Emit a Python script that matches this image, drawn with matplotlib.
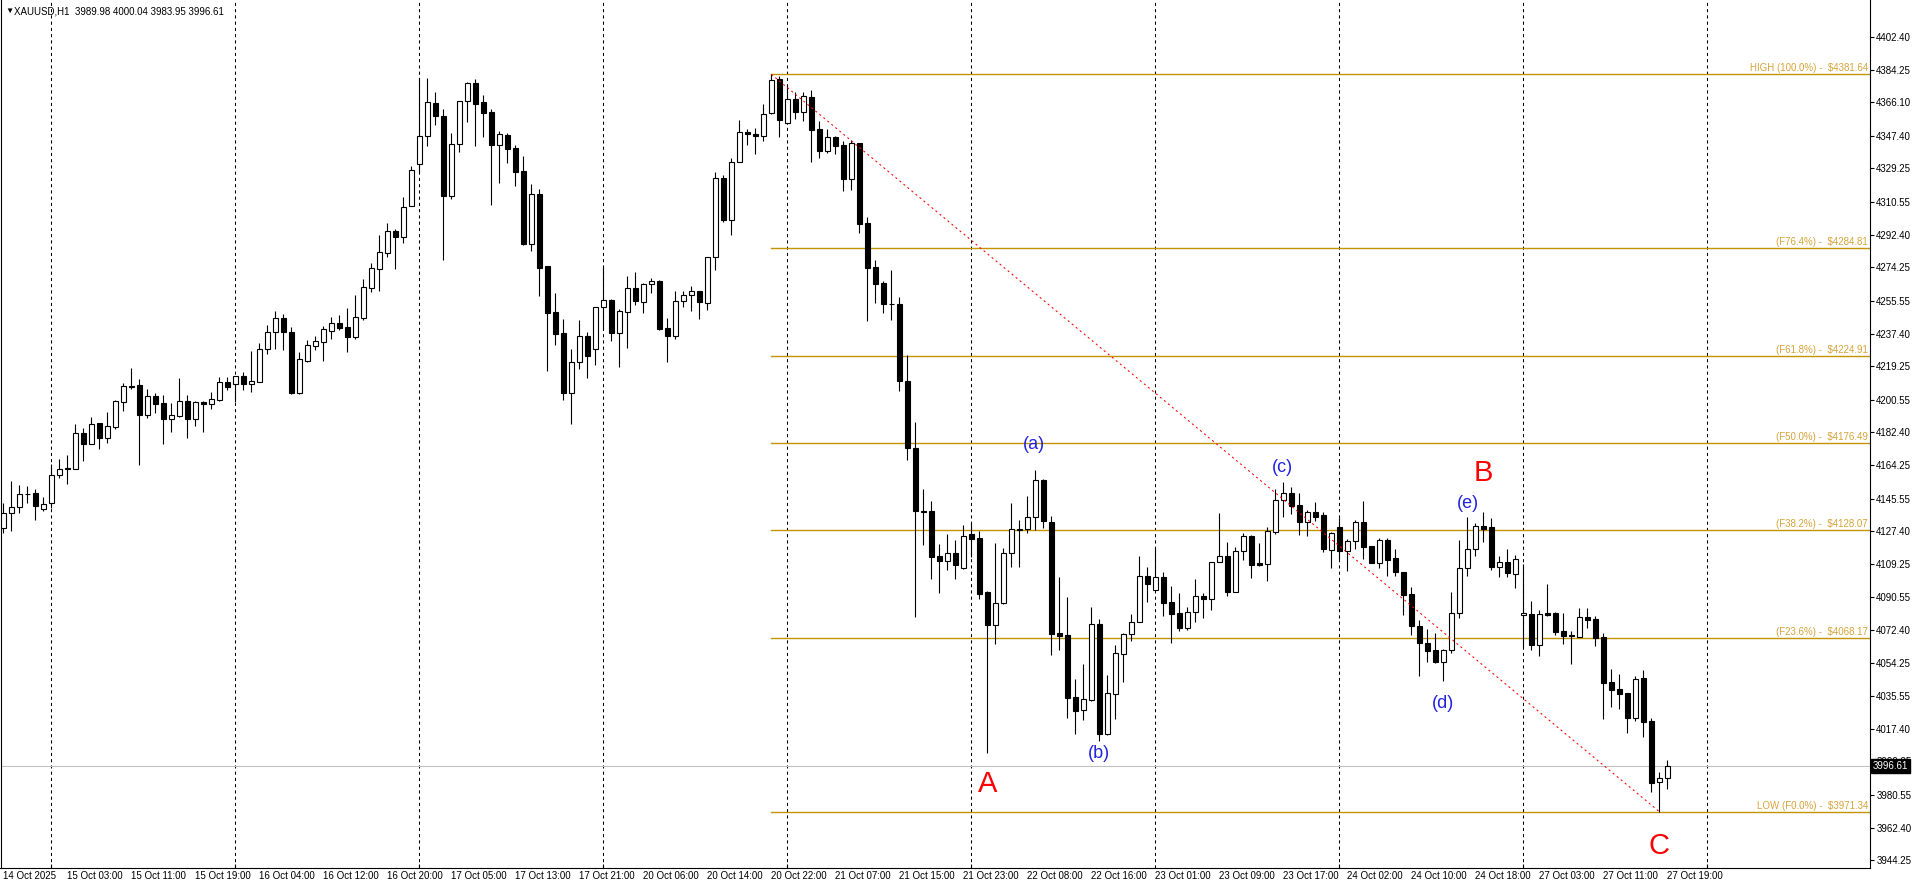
import numpy as np
import matplotlib
matplotlib.use("Agg")
import matplotlib.pyplot as plt
from matplotlib.transforms import blended_transform_factory

plt.rcParams['font.family'] = ['Liberation Sans', 'DejaVu Sans']

# XAUUSD H1, one value per bar (bar 0 = 14 Oct 19:00, bar 208 = 27 Oct 19:00)
opens = [
    4128.99, 4137.71, 4140.67, 4147.91, 4148.46, 4139.56, 4143.27, 4158.48, 4161.82, 4162.19,
    4181.85, 4176.10, 4187.42, 4179.44, 4185.56, 4199.10, 4207.82, 4208.75, 4192.24, 4202.63,
    4198.73, 4190.01, 4191.68, 4199.66, 4190.01, 4199.29, 4197.99, 4200.40, 4210.23, 4209.12,
    4213.76, 4209.49, 4210.60, 4229.00, 4238.00, 4246.00, 4238.00, 4204.50, 4222.30, 4230.63,
    4232.86, 4238.98, 4243.06, 4240.84, 4235.64, 4246.22, 4262.91, 4273.48, 4282.39, 4294.26,
    4290.92, 4308.54, 4331.91, 4347.12, 4365.49, 4358.25, 4314.11, 4342.67, 4366.60, 4376.62,
    4366.04, 4360.48, 4342.49, 4347.68, 4340.45, 4327.65, 4287.02, 4314.85, 4274.78, 4249.18,
    4237.50, 4204.48, 4221.73, 4235.83, 4228.97, 4251.97, 4255.86, 4237.87, 4249.55, 4262.54,
    4255.12, 4264.77, 4266.62, 4240.28, 4236.20, 4255.31, 4258.64, 4260.87, 4254.56, 4279.79,
    4323.75, 4300.75, 4332.65, 4349.53, 4348.42, 4347.49, 4359.92, 4379.03, 4354.36, 4367.71,
    4360.48, 4369.01, 4351.02, 4339.15, 4346.57, 4342.30, 4323.57, 4343.41, 4298.90, 4274.41,
    4265.51, 4253.82, 4253.82, 4210.97, 4173.69, 4138.60, 4138.46, 4113.42, 4110.97, 4115.09,
    4107.08, 4125.83, 4123.60, 4093.39, 4075.02, 4087.26, 4115.09, 4128.44, 4128.44, 4135.12,
    4155.71, 4132.51, 4070.74, 4069.63, 4034.95, 4027.72, 4033.62, 4075.75, 4014.70, 4036.63,
    4058.88, 4070.02, 4076.69, 4102.29, 4094.67, 4101.73, 4087.82, 4081.70, 4073.35, 4082.59,
    4091.33, 4089.49, 4110.08, 4113.42, 4093.72, 4116.20, 4124.55, 4109.52, 4109.30, 4126.78,
    4144.58, 4148.48, 4141.97, 4132.67, 4137.90, 4136.40, 4116.76, 4129.56, 4116.20, 4121.93,
    4132.51, 4118.99, 4109.52, 4122.32, 4112.47, 4104.68, 4092.44, 4074.47, 4065.34, 4061.11,
    4054.43, 4061.11, 4081.70, 4106.74, 4117.31, 4130.11, 4129.56, 4107.30, 4110.08, 4103.57,
    4080.59, 4081.48, 4064.23, 4081.70, 4081.87, 4071.85, 4069.63, 4068.68, 4079.64, 4078.53,
    4068.51, 4043.47, 4039.58, 4037.35, 4023.60, 4045.70, 4021.77, 3987.66, 3989.98,
]
highs = [
    4142.90, 4155.33, 4152.92, 4152.55, 4150.69, 4146.24, 4164.60, 4167.57, 4169.61, 4187.05,
    4184.64, 4190.76, 4187.42, 4193.72, 4200.40, 4209.68, 4218.21, 4211.90, 4206.34, 4204.30,
    4203.18, 4198.73, 4212.64, 4203.18, 4199.66, 4199.66, 4204.85, 4213.20, 4213.20, 4213.57,
    4215.98, 4227.67, 4232.00, 4242.00, 4250.00, 4248.00, 4241.00, 4227.10, 4234.00, 4236.02,
    4241.58, 4246.77, 4247.70, 4251.60, 4258.83, 4267.73, 4276.64, 4292.22, 4298.90, 4295.56,
    4313.36, 4330.61, 4379.40, 4379.58, 4371.79, 4362.15, 4348.98, 4366.60, 4377.36, 4379.03,
    4370.12, 4362.15, 4349.91, 4348.98, 4342.30, 4335.99, 4320.41, 4317.63, 4274.78, 4259.76,
    4245.29, 4228.59, 4244.73, 4238.05, 4252.34, 4274.78, 4256.42, 4250.85, 4269.22, 4271.63,
    4265.32, 4268.10, 4267.18, 4245.85, 4261.06, 4261.24, 4263.65, 4260.87, 4279.79, 4327.09,
    4325.42, 4334.88, 4356.03, 4351.20, 4351.76, 4365.12, 4381.64, 4380.70, 4375.50, 4371.61,
    4371.61, 4372.91, 4355.66, 4351.20, 4347.31, 4344.53, 4345.08, 4343.41, 4302.23, 4278.31,
    4266.62, 4272.74, 4257.72, 4225.44, 4187.99, 4150.87, 4144.19, 4120.26, 4125.83, 4122.49,
    4130.67, 4132.51, 4127.50, 4094.11, 4120.82, 4117.87, 4143.25, 4133.62, 4146.98, 4161.44,
    4156.44, 4135.85, 4101.90, 4090.94, 4045.14, 4053.49, 4085.21, 4078.53, 4047.37, 4064.06,
    4070.74, 4081.31, 4113.42, 4107.47, 4117.87, 4104.52, 4096.89, 4092.83, 4085.21, 4100.79,
    4093.16, 4110.08, 4137.68, 4121.38, 4118.43, 4126.22, 4125.27, 4120.65, 4129.89, 4151.04,
    4154.77, 4152.15, 4148.65, 4139.19, 4143.64, 4138.07, 4126.94, 4134.73, 4123.05, 4133.79,
    4144.19, 4118.99, 4123.44, 4123.44, 4117.65, 4104.68, 4096.34, 4077.81, 4073.13, 4070.57,
    4062.00, 4093.39, 4122.66, 4135.29, 4131.78, 4138.24, 4134.73, 4113.42, 4117.48, 4113.98,
    4109.14, 4088.55, 4083.70, 4098.01, 4082.42, 4081.87, 4071.85, 4084.65, 4084.65, 4080.36,
    4070.74, 4050.54, 4047.92, 4037.35, 4046.81, 4050.15, 4023.44, 3993.39, 4000.04,
]
lows = [
    4126.21, 4127.69, 4137.34, 4142.90, 4133.63, 4138.82, 4140.12, 4156.81, 4153.84, 4161.82,
    4166.64, 4176.10, 4173.32, 4176.66, 4184.08, 4194.47, 4206.71, 4164.42, 4190.57, 4193.35,
    4176.10, 4182.78, 4191.13, 4179.44, 4186.12, 4182.41, 4195.21, 4199.85, 4205.97, 4199.47,
    4205.97, 4204.85, 4210.60, 4226.00, 4229.00, 4228.00, 4203.60, 4203.60, 4221.50, 4228.41,
    4222.29, 4234.53, 4239.35, 4227.30, 4234.53, 4244.92, 4260.50, 4261.24, 4279.98, 4273.48,
    4287.95, 4308.54, 4326.72, 4341.74, 4353.43, 4278.31, 4312.44, 4338.40, 4355.28, 4341.74,
    4346.94, 4308.91, 4321.34, 4332.47, 4319.48, 4286.65, 4283.31, 4258.46, 4216.54, 4231.01,
    4200.40, 4187.00, 4217.65, 4212.64, 4220.06, 4239.72, 4233.42, 4218.95, 4229.52, 4253.26,
    4249.00, 4260.13, 4239.35, 4221.73, 4234.53, 4252.34, 4250.11, 4245.66, 4250.48, 4272.74,
    4299.64, 4292.40, 4332.65, 4342.49, 4337.48, 4344.71, 4359.37, 4346.75, 4354.36, 4356.95,
    4355.84, 4333.03, 4335.07, 4338.03, 4337.48, 4316.89, 4317.44, 4293.33, 4244.55, 4254.56,
    4248.81, 4245.10, 4205.57, 4167.01, 4079.81, 4119.88, 4100.79, 4093.16, 4105.80, 4100.62,
    4106.19, 4113.20, 4089.83, 4003.79, 4064.45, 4087.04, 4107.30, 4107.63, 4126.22, 4128.06,
    4129.00, 4058.66, 4061.28, 4023.60, 4014.70, 4022.32, 4033.06, 4010.81, 4014.14, 4023.05,
    4043.64, 4066.29, 4076.69, 4088.16, 4094.67, 4080.36, 4065.17, 4071.68, 4072.24, 4076.86,
    4079.25, 4083.70, 4110.08, 4091.49, 4093.72, 4111.19, 4101.51, 4108.20, 4099.84, 4125.66,
    4135.46, 4136.96, 4125.44, 4124.72, 4133.23, 4115.65, 4107.08, 4111.75, 4105.41, 4117.48,
    4112.09, 4109.52, 4106.74, 4102.62, 4102.62, 4080.92, 4069.46, 4046.98, 4054.43, 4053.88,
    4043.86, 4059.44, 4078.92, 4102.29, 4113.42, 4121.55, 4105.80, 4101.73, 4102.07, 4095.95,
    4063.11, 4061.45, 4058.11, 4080.36, 4069.63, 4064.62, 4053.65, 4068.68, 4073.69, 4063.67,
    4022.88, 4029.56, 4028.45, 4015.26, 4021.77, 4013.03, 3982.26, 3971.34, 3983.95,
]
closes = [
    4137.71, 4140.67, 4147.91, 4148.28, 4141.60, 4142.34, 4158.48, 4161.82, 4162.38, 4181.85,
    4176.10, 4186.86, 4179.44, 4185.75, 4199.85, 4208.01, 4208.19, 4192.24, 4202.44, 4198.36,
    4190.01, 4191.87, 4199.66, 4190.01, 4199.29, 4197.99, 4200.77, 4210.23, 4207.82, 4213.57,
    4209.49, 4210.97, 4229.00, 4238.00, 4246.00, 4238.00, 4204.50, 4223.00, 4230.80, 4233.23,
    4239.72, 4243.06, 4240.65, 4235.64, 4246.40, 4263.10, 4273.67, 4282.57, 4294.26, 4291.29,
    4307.61, 4328.20, 4347.12, 4366.04, 4358.62, 4314.11, 4342.67, 4366.60, 4376.62, 4365.30,
    4360.29, 4342.49, 4348.24, 4340.26, 4327.46, 4287.21, 4314.85, 4274.04, 4249.00, 4237.31,
    4204.48, 4221.36, 4235.83, 4225.07, 4251.97, 4255.86, 4237.87, 4249.74, 4262.54, 4255.68,
    4264.77, 4266.62, 4239.91, 4236.20, 4255.31, 4258.64, 4260.87, 4255.12, 4279.79, 4323.75,
    4300.75, 4332.65, 4349.35, 4348.24, 4347.49, 4359.37, 4378.29, 4356.40, 4367.71, 4360.48,
    4369.38, 4350.83, 4339.15, 4346.57, 4341.93, 4323.57, 4343.41, 4298.52, 4274.04, 4265.14,
    4254.01, 4253.64, 4211.16, 4173.85, 4138.80, 4138.30, 4113.20, 4110.97, 4115.09, 4108.75,
    4124.55, 4123.21, 4092.61, 4075.02, 4087.26, 4115.09, 4128.44, 4128.30, 4135.12, 4155.71,
    4132.90, 4070.35, 4069.24, 4034.73, 4027.50, 4034.01, 4075.58, 4014.70, 4037.18, 4059.44,
    4070.18, 4076.69, 4102.29, 4098.17, 4101.73, 4087.60, 4081.48, 4073.35, 4082.26, 4091.16,
    4089.49, 4110.08, 4113.42, 4093.72, 4116.20, 4124.55, 4108.75, 4108.58, 4127.50, 4144.58,
    4148.48, 4141.58, 4132.67, 4137.90, 4135.29, 4117.65, 4126.22, 4116.20, 4121.93, 4132.34,
    4118.76, 4109.52, 4122.32, 4111.53, 4104.52, 4092.05, 4074.47, 4065.01, 4060.55, 4054.43,
    4061.11, 4081.70, 4106.74, 4117.31, 4130.11, 4128.78, 4107.30, 4110.08, 4103.96, 4111.75,
    4081.87, 4064.23, 4081.48, 4080.92, 4071.46, 4069.24, 4068.90, 4079.64, 4078.14, 4068.12,
    4043.08, 4039.19, 4036.96, 4023.60, 4045.14, 4021.38, 3987.43, 3989.88, 3996.61,
]

time_labels = [
    '14 Oct 2025', '15 Oct 03:00', '15 Oct 11:00', '15 Oct 19:00', '16 Oct 04:00',
    '16 Oct 12:00', '16 Oct 20:00', '17 Oct 05:00', '17 Oct 13:00', '17 Oct 21:00',
    '20 Oct 06:00', '20 Oct 14:00', '20 Oct 22:00', '21 Oct 07:00', '21 Oct 15:00',
    '21 Oct 23:00', '22 Oct 08:00', '22 Oct 16:00', '23 Oct 01:00', '23 Oct 09:00',
    '23 Oct 17:00', '24 Oct 02:00', '24 Oct 10:00', '24 Oct 18:00', '27 Oct 03:00',
    '27 Oct 11:00', '27 Oct 19:00',
]
price_ticks = [
    4402.40, 4384.25, 4366.10, 4347.40, 4329.25, 4310.55, 4292.40, 4274.25, 4255.55,
    4237.40, 4219.25, 4200.55, 4182.40, 4164.25, 4145.55, 4127.40, 4109.25, 4090.55,
    4072.40, 4054.25, 4035.55, 4017.40, 3999.25, 3980.55, 3962.40, 3944.25,
]
fib_names = ['HIGH (100.0%)', '(F76.4%)', '(F61.8%)', '(F50.0%)', '(F38.2%)', '(F23.6%)', 'LOW (F0.0%)']
fib_levels = [4381.64, 4284.81, 4224.91, 4176.49, 4128.07, 4068.17, 3971.34]
day_bars = [6, 29, 52, 75, 98, 121, 144, 167, 190, 213]

wave_labels = ['A', 'B', 'C']
sub_labels = ['(a)', '(b)', '(c)', '(d)', '(e)']

symbol = 'XAUUSD,H1'
last_price = closes[-1]

o = np.array(opens)
h = np.array(highs)
l = np.array(lows)
c = np.array(closes)
x = np.arange(len(o))
up = c >= o

W, H = 1916, 885
fig = plt.figure(figsize=(W / 100, H / 100), dpi=100)
ax = fig.add_axes([0.5 / W, (H - 868) / H, (1870 - 0.5) / W, 868 / H])
ax.set_xlim(-0.35, 233.34)
ax.set_ylim(3939.97, 4422.99)

# day separators
for b in day_bars:
    ax.axvline(b, color='black', lw=0.75, ls=(0, (3, 3)), zorder=1)

# current price line
ax.axhline(last_price, color='#C0C0C0', lw=0.75, zorder=1)

# fibonacci levels
fib_start = 96
for name, lev in zip(fib_names, fib_levels):
    ax.plot([fib_start, 240], [lev, lev], color='#C49400', lw=1.0, zorder=1.5)
    ax.text(233.1, lev + 0.6, f'{name} -  \\${lev:.2f}', color='#D6A43A',
            fontsize=7, ha='right', va='bottom', zorder=5)

# candles
ax.vlines(x, l, h, color='black', lw=0.8, zorder=2)
ax.bar(x[up], (c - o)[up], bottom=o[up], width=0.58, color='white',
       edgecolor='black', lw=0.8, zorder=3)
ax.bar(x[~up], (o - c)[~up], bottom=c[~up], width=0.58, color='black',
       edgecolor='black', lw=0.8, zorder=3)

# trend line from the high to the low
ax.plot([96, 207], [fib_levels[0], fib_levels[-1]], color='red', lw=0.75,
        ls=(0, (2, 3)), zorder=4)

# wave labels
for txt, (bx, py) in zip(wave_labels, [(123.0, 3986.7), (185.0, 4159.9), (207.0, 3952.2)]):
    ax.text(bx, py, txt, color='#FF0000', fontsize=21, ha='center', va='center', zorder=6)
for txt, (bx, py) in zip(sub_labels, [(128.8, 4175.4), (137.0, 4003.8), (159.9, 4162.9),
                                      (180.0, 4031.6), (183.05, 4142.9)]):
    ax.text(bx, py, txt, color='#2222E0', fontsize=13, ha='center', va='center', zorder=6)

# axes styling
for s in ['top']:
    ax.spines[s].set_visible(False)
for s in ['left', 'right', 'bottom']:
    ax.spines[s].set_linewidth(0.8)

ax.yaxis.tick_right()
ax.set_yticks(price_ticks)
ax.set_yticklabels([f'{v:.2f}' for v in price_ticks])
ax.tick_params(axis='y', which='major', direction='out', length=3, width=0.8,
               pad=1.5, labelsize=7)

ax.set_xticks(np.arange(0, len(time_labels) * 8, 8))
ax.set_xticklabels(time_labels, ha='left')
ax.set_xticks(day_bars, minor=True)
ax.tick_params(axis='x', which='major', length=0, pad=2, labelsize=7)
ax.tick_params(axis='x', which='minor', direction='in', length=3, width=0.8)

# current price box on the scale
tr = blended_transform_factory(ax.transAxes, ax.transData)
ax.text(1.0015, last_price, f'{last_price:.2f}', transform=tr, color='white',
        fontsize=7, ha='left', va='center', clip_on=False, zorder=10,
        bbox=dict(boxstyle='square,pad=0.2', fc='black', ec='black'))

# header
fig.text(5 / W, 1 - 11 / H, '\u25BC', fontsize=6, va='center', ha='left')
fig.text(14 / W, 1 - 11 / H, f'{symbol}  3989.98 4000.04 3983.95 3996.61',
         fontsize=7, va='center', ha='left')

fig.savefig('out.png', dpi=100)
